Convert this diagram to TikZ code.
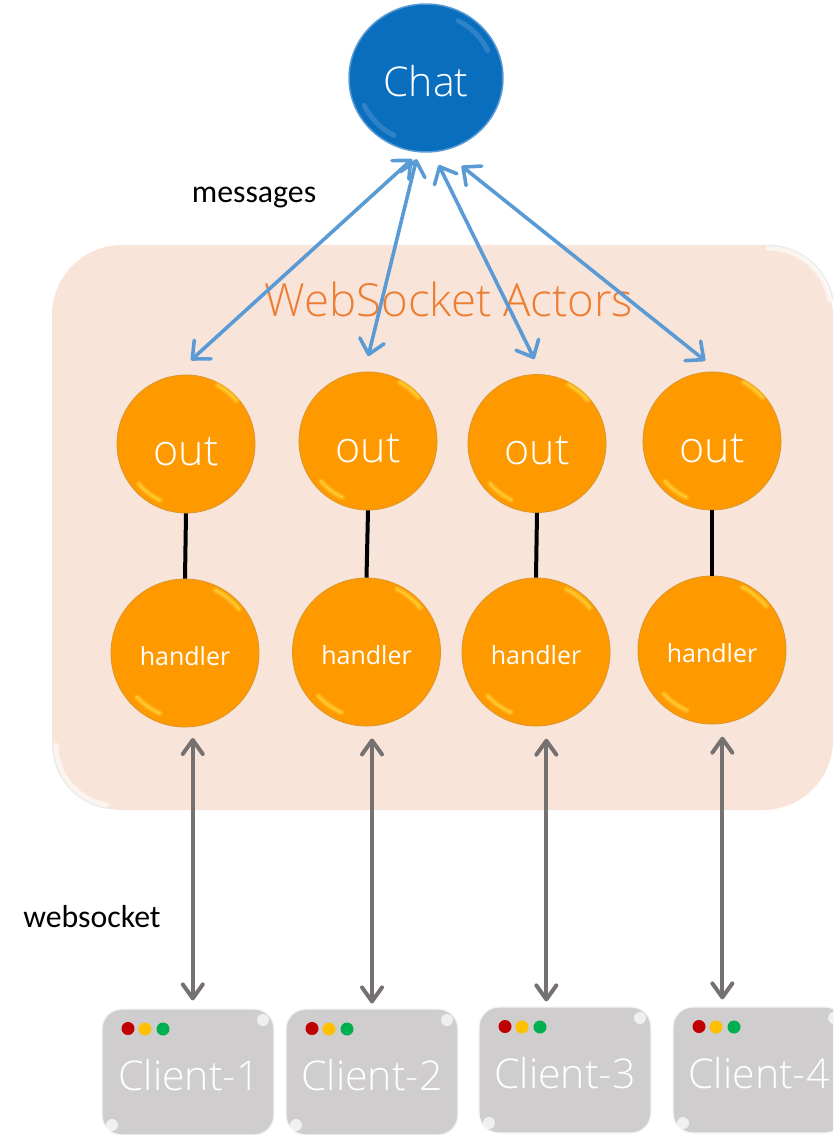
\documentclass[tikz,border=0pt]{standalone}
\usepackage{fontspec}
\setmainfont{Carlito}
\newfontfamily\lightf{Open Sans Light}
\newfontfamily\regf{Open Sans}
\usetikzlibrary{arrows.meta,shapes.geometric,calc}
\definecolor{panel}{HTML}{F9E4D9}
\definecolor{chatblue}{HTML}{0A6EBE}
\definecolor{chatedge}{HTML}{5B9BD5}
\definecolor{orangeball}{HTML}{FF9900}
\definecolor{orangeedge}{HTML}{D9962A}
\definecolor{glossy}{HTML}{FFC72C}
\definecolor{clientgrey}{HTML}{CFCDCE}
\definecolor{arrowgrey}{HTML}{767171}
\definecolor{arrowblue}{HTML}{5B9BD5}
\definecolor{titleorange}{HTML}{ED7D31}
\tikzset{
 x=1pt,y=-1pt,
 ball/.style={circle,inner sep=0pt,fill=orangeball,draw=orangeedge,line width=0.8pt,text=white},
 outball/.style={ball,minimum size=138pt,font=\lightf\fontsize{43}{43}\selectfont},
 handball/.style={ball,minimum size=148pt,font=\regf\fontsize{25}{25}\selectfont},
 clientbox/.style={rectangle,rounded corners=20pt,minimum width=172pt,minimum height=126pt,inner sep=0pt,fill=clientgrey,draw=white!80!clientgrey,line width=1.2pt},
 clienttext/.style={text=white,font=\lightf\fontsize{41}{41}\selectfont,inner sep=0pt,anchor=center},
 dotlight/.style={circle,inner sep=0pt,minimum size=13pt},
 bluearrow/.style={draw=arrowblue,line width=3.6pt,line cap=round,{Straight Barb[length=14pt,width=25pt,line width=3.6pt,round]}-{Straight Barb[length=14pt,width=25pt,line width=3.6pt,round]}},
 greyarrow/.style={draw=arrowgrey,line width=4pt,{Straight Barb[length=14pt,width=20pt,line width=4pt,round]}-{Straight Barb[length=14pt,width=20pt,line width=4pt,round]}},
 linkline/.style={draw=black,line width=4pt},
 glosssoft/.style={draw=glossy,opacity=.45,line width=6pt,line cap=round},
 glossarc/.style={draw=glossy,line width=2.5pt,line cap=round},
 chatgloss/.style={draw=chatedge!55!chatblue,line width=5pt,line cap=round,opacity=.8},
 cornerglint/.style={fill=white,opacity=.7,circle,inner sep=0pt,minimum size=12pt},
 fringe/.style={draw=gray!15,line width=1.6pt,line cap=round},
 fringeband/.style={draw=white,opacity=.6,line width=5pt,line cap=round},
}
\begin{document}
\begin{tikzpicture}
\useasboundingbox (0,0) rectangle (833,1135);
\clip (0,0) rectangle (833,1135);
% panel
\node[fill=panel,rounded corners=70pt,minimum width=781pt,minimum height=565pt,inner sep=0pt] (panel) at (442.5,527.5) {};
\draw[fringeband] (768,248) arc[start angle=-90,end angle=-10,radius=63];
\draw[fringeband] (56,745) arc[start angle=180,end angle=100,radius=61];
\draw[fringe] (768,245.5) arc[start angle=-90,end angle=-10,radius=66];
\draw[fringe] (53,745) arc[start angle=180,end angle=100,radius=64];
\node[text=titleorange,font=\lightf\fontsize{45.6}{46}\selectfont,inner sep=0pt] (title) at (449,299) {WebSocket Actors};
% chat
\node[ellipse,minimum width=154pt,minimum height=148pt,inner sep=0pt,fill=chatblue,draw=chatedge,line width=1.5pt,text=white,font=\lightf\fontsize{41}{41}\selectfont] (chat) at (426,78) {\raisebox{-18pt}[0pt][0pt]{Chat}};
\draw[chatgloss] (458,20.6) arc[start angle=-62,end angle=-25,x radius=68,y radius=65];
\draw[chatgloss] (394,135.4) arc[start angle=-242,end angle=-205,x radius=68,y radius=65];
% balls
\foreach \n/\ox/\oy/\hx/\hy in {1/186/444/185/653,2/368/441/366.5/652,3/537/443.5/536/652,4/712/441/712/650}{
  \node[outball] (o\n) at (\ox,\oy) {\raisebox{-21pt}[0pt][0pt]{out}};
  \node[handball] (h\n) at (\hx,\hy) {\raisebox{-12pt}[0pt][0pt]{handler}};
  \draw[linkline] (o\n.south) -- (h\n.north);
  \foreach \sty in {glosssoft,glossarc}{
  \draw[\sty] (\ox,\oy) ++(50.6,-43.4) arc[start angle=-40.6,end angle=-62,radius=66];
  \draw[\sty] (\ox,\oy) ++(-47,40) arc[start angle=-220,end angle=-245,radius=62];
  \draw[\sty] (\hx,\hy) ++(54,-44) arc[start angle=-39,end angle=-64,radius=70];
  \draw[\sty] (\hx,\hy) ++(-48,44) arc[start angle=-222,end angle=-247,radius=65];
  }
}
% clients
\foreach \n/\cx/\cy/\tx/\lab in {1/188/1072/189/Client-1,2/372/1072/372/Client-2,3/565/1070/565/Client-3,4/759/1070/759/Client-4}{
  \node[clientbox] (c\n) at (\cx,\cy) {};
  \node[clienttext] (ct\n) at (\tx,\cy+3) {\lab};
  \node[dotlight,fill={rgb,255:red,192;green,0;blue,0}] (d\n a) at (\cx-60,\cy-43.5) {};
  \node[dotlight,fill={rgb,255:red,255;green,192;blue,0}] (d\n b) at (\cx-43,\cy-43) {};
  \node[dotlight,fill={rgb,255:red,0;green,176;blue,80}] (d\n c) at (\cx-25,\cy-43) {};
  \node[cornerglint] (g\n a) at (\cx+75,\cy-52) {};
  \node[cornerglint] (g\n b) at (\cx-76,\cy+53) {};
}
% blue connectors
\draw[bluearrow,shorten <=23pt,shorten >=10pt] (o1.100) -- (chat.265);
\draw[bluearrow,shorten <=16pt,shorten >=7pt] (o2.93) -- (chat.264);
\draw[bluearrow,shorten <=17pt,shorten >=14pt] (o3.86) -- (chat.275);
\draw[bluearrow,shorten <=18pt,shorten >=24pt] (o4.84) -- (chat.283);
% grey connectors
\draw[greyarrow,shorten <=11pt,shorten >=8pt] (h1.276) -- (h1.276 |- c1.north);
\draw[greyarrow,shorten <=12pt,shorten >=5pt] (c2.north |- h2.south) -- (c2.north);
\draw[greyarrow,shorten <=13pt,shorten >=5pt] (h3.278) -- (h3.278 |- c3.north);
\draw[greyarrow,shorten <=13pt,shorten >=7pt] (h4.278) -- (h4.278 |- c4.north);
% labels
\node[font=\fontsize{31.8}{32}\selectfont,inner sep=0pt] (msg) at (254,198) {messages};
\node[font=\fontsize{31.8}{32}\selectfont,inner sep=0pt] (ws) at (92,917) {websocket};
\end{tikzpicture}
\end{document}
